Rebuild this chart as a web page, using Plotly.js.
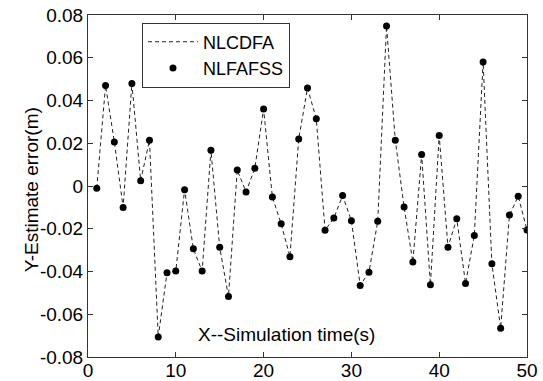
<!DOCTYPE html>
<html>
<head>
<meta charset="utf-8">
<script src="https://cdn.plot.ly/plotly-3.0.1.min.js"></script>
<style>html,body{margin:0;padding:0;background:#fff;}#chart{width:543px;height:381px;}</style>
</head>
<body>
<div id="chart"></div>
<script>
const timeSteps = [1,2,3,4,5,6,7,8,9,10,11,12,13,14,15,16,17,18,19,20,21,22,23,24,25,26,27,28,29,30,31,32,33,34,35,36,37,38,39,40,41,42,43,44,45,46,47,48,49,50];
const yError = [-0.001,0.047,0.0206,-0.010,0.048,0.0025,0.0214,-0.0706,-0.0406,-0.0398,
  -0.0017,-0.0294,-0.0398,0.0167,-0.0287,-0.0517,0.0075,-0.0028,0.0083,0.036,
  -0.0052,-0.0177,-0.0331,0.022,0.0458,0.0315,-0.0207,-0.015,-0.0045,-0.0162,
  -0.0465,-0.0403,-0.0165,0.0749,0.0214,-0.0098,-0.0356,0.0147,-0.0462,0.0236,
  -0.0286,-0.0153,-0.0456,-0.0231,0.058,-0.0364,-0.0665,-0.0136,-0.0048,-0.0206];
const xTicks = [0,10,20,30,40,50];
const yTicks = [-0.08,-0.06,-0.04,-0.02,0,0.02,0.04,0.06,0.08];
const yTickText = ['-0.08','-0.06','-0.04','-0.02','0','0.02','0.04','0.06','0.08'];
const seriesNames = ['NLCDFA','NLFAFSS'];
const xTitle = 'X--Simulation time(s)';
const yTitle = 'Y-Estimate error(m)';

const font = {family:'Liberation Sans, Arial, sans-serif', size:19, color:'#000'};

const traces = [
  {x:timeSteps, y:yError, name:seriesNames[0], type:'scatter', mode:'lines',
   line:{color:'#222', width:1, dash:'4px,3px'}},
  {x:timeSteps, y:yError, name:seriesNames[1], type:'scatter', mode:'markers',
   marker:{color:'#000', size:7, symbol:'circle'}}
];

const axisCommon = {
  showgrid:false, zeroline:false, showline:true, linecolor:'#333', linewidth:1,
  mirror:'allticks', ticks:'inside', ticklen:5, tickcolor:'#333', tickwidth:1,
  tickfont:font
};

const layout = {
  width:543, height:381,
  margin:{l:88, r:16, t:15, b:24},
  paper_bgcolor:'#fff', plot_bgcolor:'#fff',
  font:font,
  showlegend:true,
  legend:{x:0.123, y:0.978, xanchor:'left', yanchor:'top', bgcolor:'#fff',
    bordercolor:'#333', borderwidth:1, font:Object.assign({}, font, {size:18}),
    tracegroupgap:0, itemwidth:50, entrywidth:115},
  xaxis:Object.assign({}, axisCommon, {range:[0,50], tickvals:xTicks, ticktext:xTicks.map(String),
    ticklabelstandoff:-4}),
  yaxis:Object.assign({}, axisCommon, {range:[-0.08,0.08], tickvals:yTicks, ticktext:yTickText}),
  annotations:[
    {text:xTitle, xref:'paper', yref:'paper', x:0.453, y:0.065,
     xanchor:'center', yanchor:'middle', showarrow:false, font:font},
    {text:yTitle, xref:'paper', yref:'paper', x:-0.128, y:0.49, textangle:-90,
     xanchor:'center', yanchor:'middle', showarrow:false, font:font}
  ]
};

Plotly.newPlot('chart', traces, layout, {displayModeBar:false, staticPlot:true});
</script>
</body>
</html>
